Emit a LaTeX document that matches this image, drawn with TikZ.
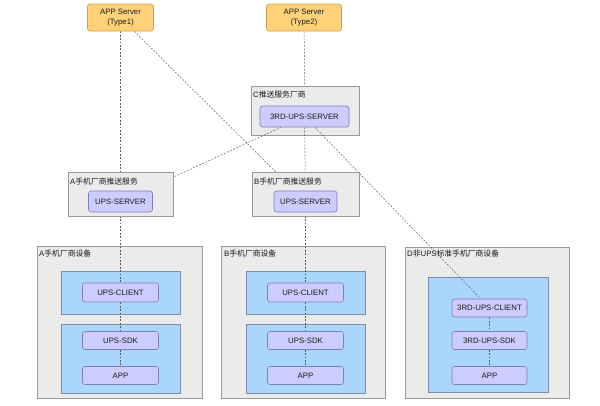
\documentclass[tikz,border=0pt]{standalone}
\usepackage{fontspec}
\setmainfont{Liberation Sans}
\newfontfamily\cjk{Noto Sans CJK SC}
\pgfdeclarelayer{canvas}
\pgfdeclarelayer{back}
\pgfdeclarelayer{lines}
\pgfsetlayers{canvas,back,lines,main}
\definecolor{orfill}{HTML}{FFD27A}
\definecolor{ordraw}{HTML}{D3A04A}
\definecolor{pufill}{HTML}{CCCCFF}
\definecolor{pudraw}{HTML}{7E7EB8}
\definecolor{blfill}{HTML}{AAD6FD}
\definecolor{bldraw}{HTML}{7D8FA6}
\definecolor{grfill}{HTML}{EBEBEB}
\definecolor{grdraw}{HTML}{9A9A9A}
\definecolor{lncol}{HTML}{5A5A5A}
\definecolor{txcol}{HTML}{1A1A1A}
\tikzset{
  txt/.style={font=\fontsize{7.8}{9.2}\selectfont, text=txcol},
  appsrv/.style={txt, draw=ordraw, fill=orfill, rounded corners=2.5pt, line width=0.6pt, align=center, inner sep=0pt},
  comp/.style={txt, draw=pudraw, fill=pufill, rounded corners=2.5pt, line width=0.6pt, inner sep=0pt},
  cont/.style={draw=grdraw, fill=grfill, line width=0.6pt, inner sep=0pt},
  bluebox/.style={draw=bldraw, fill=blfill, line width=0.6pt, inner sep=0pt},
  clabel/.style={txt, anchor=west, inner sep=0pt},
  link/.style={draw=lncol, line width=0.5pt, dash pattern=on 1.8pt off 1.6pt},
}
\begin{document}
\begin{tikzpicture}[x=1pt,y=-1pt]
\begin{pgfonlayer}{canvas}
\useasboundingbox[fill=white] (0,0) rectangle (600,405);
\end{pgfonlayer}

% top application servers
\node[appsrv, minimum width=66pt, minimum height=27pt] (T1) at (120.5,17.5) {APP Server\\(Type1)};
\node[appsrv, minimum width=75pt, minimum height=27pt] (T2) at (304,17.5) {APP Server\\(Type2)};

% C push service vendor
\begin{pgfonlayer}{back}
\node[cont, minimum width=108pt, minimum height=49pt] (Cbox) at (305,110.5) {};
\end{pgfonlayer}
\node[clabel] (Clab) at (253,95) {C{\cjk 推送服务厂商}};
\node[comp, minimum width=89pt, minimum height=21pt] (Csrv) at (304.5,116.5) {3RD-UPS-SERVER};

% A / B push services
\node[cont, minimum width=105pt, minimum height=44pt] (Abox) at (120.5,194) {};
\node[clabel] (Alab) at (70,182) {A{\cjk 手机厂商推送服务}};
\node[comp, minimum width=64pt, minimum height=21pt] (Asrv) at (120.5,201.5) {UPS-SERVER};

\node[cont, minimum width=107pt, minimum height=44pt] (Bbox) at (305.5,194) {};
\node[clabel] (Blab) at (254,182) {B{\cjk 手机厂商推送服务}};
\node[comp, minimum width=63pt, minimum height=21pt] (Bsrv) at (305.5,201.5) {UPS-SERVER};

% device containers (back layer)
\begin{pgfonlayer}{back}
\node[cont, minimum width=165pt, minimum height=152pt] (Adev) at (119.5,322) {};
\node[bluebox, minimum width=119pt, minimum height=43pt] (Ab1) at (120.5,292.5) {};
\node[bluebox, minimum width=119pt, minimum height=69pt] (Ab2) at (120.5,358.5) {};

\node[cont, minimum width=164pt, minimum height=152pt] (Bdev) at (303.5,322) {};
\node[bluebox, minimum width=119pt, minimum height=43pt] (Bb1) at (305.5,292.5) {};
\node[bluebox, minimum width=119pt, minimum height=69pt] (Bb2) at (305.5,358.5) {};

\node[cont, minimum width=164pt, minimum height=151pt] (Ddev) at (487,322.5) {};
\node[bluebox, minimum width=120pt, minimum height=115pt] (Db) at (488,334.5) {};
\end{pgfonlayer}

\node[clabel] (Adlab) at (39,254) {A{\cjk 手机厂商设备}};
\node[clabel] (Bdlab) at (224,254) {B{\cjk 手机厂商设备}};
\node[clabel] (Ddlab) at (407,254) {D{\cjk 非}UPS{\cjk 标准手机厂商设备}};

\node[comp, minimum width=76pt, minimum height=19pt] (Acli) at (120.5,292.5) {UPS-CLIENT};
\node[comp, minimum width=76pt, minimum height=18pt] (Asdk) at (120.5,340.5) {UPS-SDK};
\node[comp, minimum width=76pt, minimum height=18pt] (Aapp) at (120.5,375.5) {APP};

\node[comp, minimum width=76pt, minimum height=19pt] (Bcli) at (305.5,292.5) {UPS-CLIENT};
\node[comp, minimum width=76pt, minimum height=18pt] (Bsdk) at (305.5,340.5) {UPS-SDK};
\node[comp, minimum width=76pt, minimum height=18pt] (Bapp) at (305.5,375.5) {APP};

\node[comp, minimum width=75pt, minimum height=18pt] (Dcli) at (489.5,308) {3RD-UPS-CLIENT};
\node[comp, minimum width=75pt, minimum height=18pt] (Dsdk) at (489.5,340.5) {3RD-UPS-SDK};
\node[comp, minimum width=75pt, minimum height=18pt] (Dapp) at (489.5,375.5) {APP};

% connectors
\begin{pgfonlayer}{lines}
\draw[link] (T1) -- (Asrv);
\draw[link] (T1) -- (Bsrv);
\draw[link] (T2) -- (Cbox);
\draw[link] (Csrv) -- (Asrv);
\draw[link] (Csrv) -- (Bsrv);
\draw[link] (Csrv) -- (Dcli);
\draw[link] (Asrv) -- (Acli);
\draw[link] (Acli) -- (Asdk);
\draw[link] (Asdk) -- (Aapp);
\draw[link] (Bsrv) -- (Bcli);
\draw[link] (Bcli) -- (Bsdk);
\draw[link] (Bsdk) -- (Bapp);
\draw[link] (Dcli) -- (Dsdk);
\draw[link] (Dsdk) -- (Dapp);
\end{pgfonlayer}
\end{tikzpicture}
\end{document}
